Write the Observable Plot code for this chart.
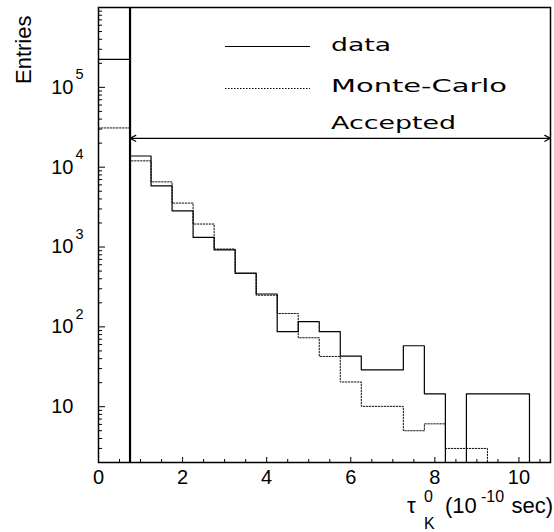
<!DOCTYPE html>
<html><head><meta charset="utf-8">
<script src="https://cdn.jsdelivr.net/npm/d3@7"></script>
<script src="https://cdn.jsdelivr.net/npm/@observablehq/plot@0.6"></script>
<style>
body{margin:0;background:#fff}
#chart{position:relative;width:554px;height:532px}
</style>
</head><body><div id="chart"></div>
<script>
// ---- data ----
const binEdges = [0, 0.75, 1.25, 1.75, 2.25, 2.75, 3.25, 3.75, 4.25, 4.75, 5.25, 5.75, 6.25, 6.75, 7.25, 7.75, 8.25, 8.75, 9.25, 9.75, 10.25];
const dataCounts = [224000, 13800, 5830, 2840, 1320, 920, 470, 258, 87, 116, 87, 43, 29, 29, 58, 14.5, 0, 14.5, 14.5, 14.5];
const mcCounts   = [31000, 12000, 6550, 3550, 1940, 944, 466, 249, 147, 73, 42.6, 20.4, 10.1, 10.1, 5.0, 6.1, 3.0, 3.0, 0, 0];
const cutValue = 0.75;
const acceptedRange = [0.75, 10.75];
const acceptedLevel = 23000;
const xDomain = [0, 10.75];
const yDomain = [2, 1e6];
const xTickLabels = [0, 2, 4, 6, 8, 10];
const yTickValues = [10, 100, 1000, 10000, 100000];
const yTickExponents = ["", "2", "3", "4", "5"];
const legendLabels = ["data", "Monte-Carlo", "Accepted"];
const yTitle = "Entries";

// ---- layout ----
const W = 554, H = 532;
const mL = 98, mR = 4, mT = 7, mB = 70;
const plotW = W - mL - mR, plotH = H - mT - mB;

function steps(counts) {
  const pts = counts.map((v, i) => ({x: binEdges[i], y: Math.max(v, yDomain[0])}));
  const n = counts.length;
  pts.push({x: binEdges[n], y: Math.max(counts[n - 1], yDomain[0])});
  pts.push({x: binEdges[n], y: yDomain[0]});
  return pts;
}

// tick positions
const yMajor = [];
const yMinor = [];
for (let k = 0; k <= 6; k++) {
  const p = Math.pow(10, k);
  if (p >= yDomain[0] && p <= yDomain[1]) yMajor.push(p);
  for (let m = 2; m <= 9; m++) {
    const v = m * p;
    if (v > yDomain[0] && v < yDomain[1]) yMinor.push(v);
  }
}
const xMinor = d3.range(0.5, 10.75, 0.5).filter(v => v % 2 !== 0);
const xMajor = d3.range(2, 10.75, 2);

const mid = (acceptedRange[0] + acceptedRange[1]) / 2;
const arrows = [
  {x1: mid, x2: acceptedRange[0], y: acceptedLevel},
  {x1: mid, x2: acceptedRange[1], y: acceptedLevel}
];

const font = "'Liberation Sans', Arial, Helvetica, sans-serif";

const plot = Plot.plot({
  width: W, height: H,
  marginLeft: mL, marginRight: mR, marginTop: mT, marginBottom: mB,
  x: {domain: xDomain, axis: null},
  y: {type: "log", domain: yDomain, axis: null},
  style: {fontFamily: font, background: "#fff", color: "#000", overflow: "visible"},
  marks: [
    Plot.line(steps(mcCounts), {x: "x", y: "y", curve: "step-after", stroke: "#111", strokeWidth: 1, strokeDasharray: "1.5,1.5"}),
    Plot.line(steps(dataCounts), {x: "x", y: "y", curve: "step-after", stroke: "#000", strokeWidth: 1.2}),
    Plot.ruleX([cutValue], {stroke: "#000", strokeWidth: 2.2}),
    Plot.arrow(arrows, {x1: "x1", x2: "x2", y1: "y", y2: "y", headLength: 8, headAngle: 55, strokeWidth: 1.2, stroke: "#000"}),
    Plot.ruleY(yMajor, {insetRight: plotW - 7, stroke: "#000", strokeWidth: 1}),
    Plot.ruleY(yMinor, {insetRight: plotW - 4, stroke: "#000", strokeWidth: 1}),
    Plot.ruleX(xMinor, {insetTop: plotH - 3, stroke: "#000", strokeWidth: 1}),
    Plot.ruleX(xMajor, {insetTop: plotH - 5, stroke: "#000", strokeWidth: 1}),
    Plot.text(yTickValues, {y: d => d, text: () => "10", frameAnchor: "left", textAnchor: "end", lineAnchor: "middle", dx: -25, fontSize: 20, fill: "#000"}),
    Plot.text(yTickValues.map((v, i) => ({v, e: yTickExponents[i]})), {y: "v", text: "e", frameAnchor: "left", textAnchor: "start", lineAnchor: "bottom", dx: -23, dy: -8, fontSize: 14.5, fill: "#000"}),
    Plot.text(xTickLabels, {x: d => d, text: d => String(d), frameAnchor: "bottom", lineAnchor: "top", dy: 7, fontSize: 20, fill: "#000"}),
    Plot.frame({stroke: "#000", strokeWidth: 1.5})
  ]
});

document.getElementById("chart").appendChild(plot);

// ---- titles and legend ----
const svg = d3.select(plot);

svg.append("text")
  .attr("transform", "translate(31,84) rotate(-90)")
  .attr("text-anchor", "start")
  .attr("font-family", font).attr("font-size", 22).attr("fill", "#000")
  .text(yTitle);

const xt = svg.append("g").attr("font-family", font).attr("fill", "#000").attr("text-anchor", "start");
xt.append("text").attr("x", 407).attr("y", 513).attr("font-size", 22).text("τ");
xt.append("text").attr("x", 424).attr("y", 502).attr("font-size", 16).text("0");
xt.append("text").attr("x", 424).attr("y", 529).attr("font-size", 16).text("K");
xt.append("text").attr("x", 445).attr("y", 513).attr("font-size", 22).text("(10");
xt.append("text").attr("x", 481).attr("y", 502).attr("font-size", 16).text("-10");
xt.append("text").attr("x", 553).attr("y", 513).attr("font-size", 22).attr("text-anchor", "end").text("sec)");

const lg = svg.append("g").attr("text-anchor", "start");
lg.append("line").attr("x1", 225).attr("x2", 310).attr("y1", 46.5).attr("y2", 46.5).attr("stroke", "#000").attr("stroke-width", 1);
lg.append("line").attr("x1", 225).attr("x2", 310).attr("y1", 88.5).attr("y2", 88.5).attr("stroke", "#000").attr("stroke-width", 1).attr("stroke-dasharray", "1.5,1.5");
const lgTexts = [
  {t: legendLabels[0], y: 51, w: 60},
  {t: legendLabels[1], y: 92, w: 176},
  {t: legendLabels[2], y: 129, w: 125}
];
lgTexts.forEach(d => {
  lg.append("text").attr("x", 331).attr("y", d.y)
    .attr("font-family", "'DejaVu Sans', sans-serif").attr("font-size", 18).attr("fill", "#000")
    .attr("textLength", d.w).attr("lengthAdjust", "spacingAndGlyphs")
    .text(d.t);
});
</script>
</body></html>
